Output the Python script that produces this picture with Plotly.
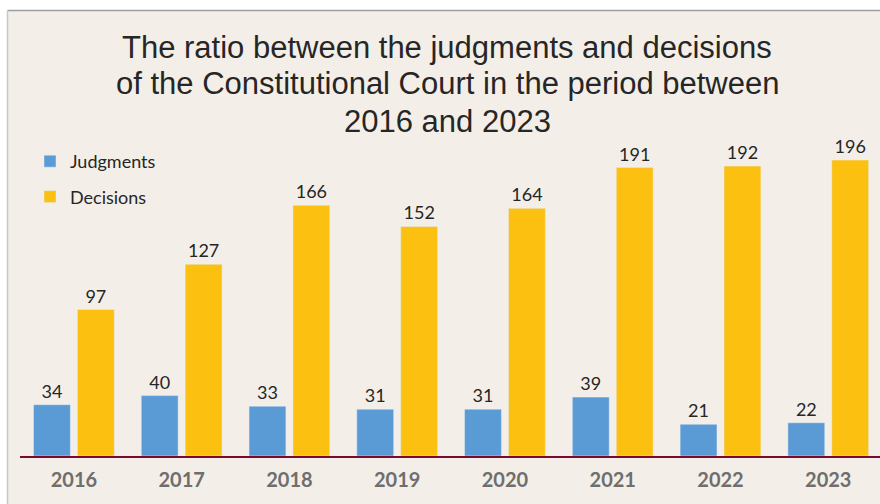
import plotly.graph_objects as go

# Constitutional Court output by year
years = ["2016", "2017", "2018", "2019", "2020", "2021", "2022", "2023"]
judgments = [34, 40, 33, 31, 31, 39, 21, 22]
decisions = [97, 127, 166, 152, 164, 191, 192, 196]

title_lines = [
    "The ratio between the judgments and decisions",
    "of the Constitutional Court in the period between",
    "2016 and 2023",
]

W, H = 880, 504
ML, MR, MT, MB = 20, 0, 154, 48
PW, PH = W - ML - MR, H - MT - MB

BG = "#F3EFE8"
BLUE = "#5B9BD5"
GOLD = "#FCC011"
LABEL_FONT = dict(family="Lato, Open Sans, sans-serif", size=18, color="#262626")


def px_to_paper_x(px):
    return (px - ML) / PW


def px_to_paper_y(py):
    return (H - MB - py) / PH


fig = go.Figure()
fig.add_trace(go.Bar(
    name="Judgments", x=years, y=judgments, marker_color=BLUE,
    text=judgments, textposition="outside", textfont=LABEL_FONT,
    cliponaxis=False, legendgroup="j",
))
fig.add_trace(go.Bar(
    name="Decisions", x=years, y=decisions, marker_color=GOLD,
    text=decisions, textposition="outside", textfont=LABEL_FONT,
    cliponaxis=False, legendgroup="d",
))

# framed panel behind the chart
fig.add_shape(
    type="rect", xref="paper", yref="paper", layer="below",
    x0=px_to_paper_x(7.5), x1=px_to_paper_x(W + 20),
    y0=px_to_paper_y(H + 20), y1=px_to_paper_y(10.5),
    fillcolor=BG, line=dict(width=0),
)
fig.add_shape(
    type="line", xref="paper", yref="paper", layer="below",
    x0=px_to_paper_x(7.5), x1=px_to_paper_x(W + 20),
    y0=px_to_paper_y(10.5), y1=px_to_paper_y(10.5),
    line=dict(color="#9E9E9E", width=1.5),
)
fig.add_shape(
    type="line", xref="paper", yref="paper", layer="below",
    x0=px_to_paper_x(7.5), x1=px_to_paper_x(7.5),
    y0=px_to_paper_y(10.5), y1=px_to_paper_y(H + 20),
    line=dict(color="#C8C8C8", width=1.5),
)

# three-line heading, one annotation per line for tighter leading
for i, line in enumerate(title_lines):
    fig.add_annotation(
        text=line, showarrow=False,
        xref="paper", yref="paper",
        x=px_to_paper_x(447), xanchor="center",
        y=px_to_paper_y(47 + 37 * i), yanchor="middle",
        font=dict(family="Liberation Sans, Arial, sans-serif", size=31, color="#262626"),
    )

fig.update_layout(
    width=W, height=H,
    margin=dict(l=ML, r=MR, t=MT, b=MB),
    paper_bgcolor="white",
    plot_bgcolor="rgba(0,0,0,0)",
    barmode="group",
    bargap=0.185,
    bargroupgap=0.16,
    legend=dict(
        x=px_to_paper_x(30), xanchor="left",
        y=px_to_paper_y(143), yanchor="top",
        bgcolor="rgba(0,0,0,0)",
        font=dict(family="Lato, Open Sans, sans-serif", size=18, color="#262626"),
        tracegroupgap=9,
        traceorder="grouped",
    ),
    xaxis=dict(
        type="category",
        range=[-0.5, 7.48],
        showline=True, linecolor="#7B0A2E", linewidth=2,
        showgrid=False, zeroline=False, ticks="",
        ticklabelstandoff=5,
        tickfont=dict(family="Lato, Open Sans, sans-serif", size=20, color="#6E6E6E", weight="bold"),
    ),
    yaxis=dict(
        range=[0, 200], visible=False, showgrid=False, zeroline=False,
    ),
    showlegend=True,
)

fig.write_html("out.html")
